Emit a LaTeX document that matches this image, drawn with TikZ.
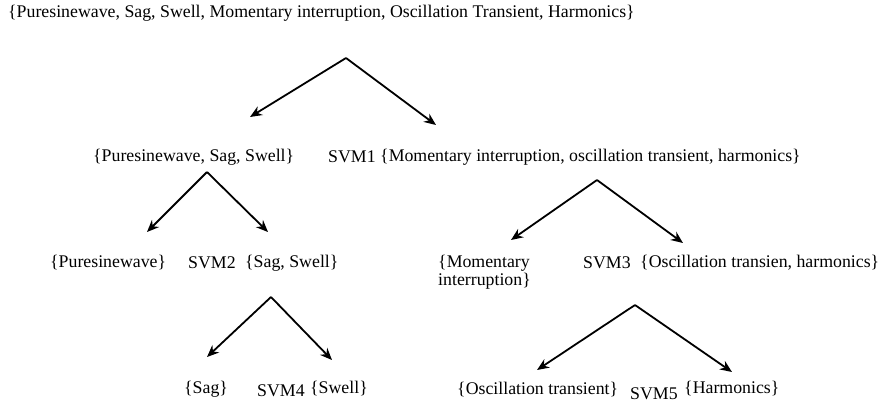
\documentclass[tikz,border=0pt]{standalone}
\usepackage{fontspec}
\setmainfont{Liberation Serif}
\usetikzlibrary{arrows.meta}
\begin{document}
\begin{tikzpicture}[x=1pt,y=-1pt,
  lbl/.style={anchor=west,inner sep=0pt,font=\fontsize{17.8}{18.5}\selectfont},
  arr/.style={line width=1.8pt,-{Stealth[length=12pt,width=10pt]}}]
\useasboundingbox (0,0) rectangle (885,408);
% texts
\node[lbl] (top) at (8,13) {\{Puresinewave, Sag, Swell, Momentary interruption, Oscillation Transient, Harmonics\}};
\node[lbl] (l1a) at (93,157) {\{Puresinewave, Sag, Swell\}};
\node[lbl] (svm1) at (328,157) {SVM1};
\node[lbl] (l1b) at (380,157) {\{Momentary interruption, oscillation transient, harmonics\}};
\node[lbl] (l2a) at (50,263) {\{Puresinewave\}};
\node[lbl] (svm2) at (188,263) {SVM2};
\node[lbl] (l2b) at (245,263) {\{Sag, Swell\}};
\node[lbl,align=left] (l2c) at (438,272) {\{Momentary\\interruption\}};
\node[lbl] (svm3) at (583,263) {SVM3};
\node[lbl] (l2d) at (640,263) {\{Oscillation transien, harmonics\}};
\node[lbl] (l3a) at (184,389) {\{Sag\}};
\node[lbl] (svm4) at (257,391) {SVM4};
\node[lbl] (l3b) at (310,389) {\{Swell\}};
\node[lbl] (l3c) at (457,390) {\{Oscillation transient\}};
\node[lbl] (svm5) at (630,394) {SVM5};
\node[lbl] (l3d) at (684,389) {\{Harmonics\}};
% arrow points
\coordinate (a1) at (346,58);
\coordinate (a1l) at (250,117);
\coordinate (a1r) at (436,125);
\coordinate (a2) at (207,172);
\coordinate (a2l) at (147,232);
\coordinate (a2r) at (268,232);
\coordinate (a3) at (597,180);
\coordinate (a3l) at (511,240);
\coordinate (a3r) at (683,243);
\coordinate (a4) at (271,297);
\coordinate (a4l) at (207,357);
\coordinate (a4r) at (332,360);
\coordinate (a5) at (635,305);
\coordinate (a5l) at (537,370);
\coordinate (a5r) at (732,372);
\foreach \p in {1,...,5}{
  \draw[arr] (a\p) -- (a\p l);
  \draw[arr] (a\p) -- (a\p r);
}
\end{tikzpicture}
\end{document}
